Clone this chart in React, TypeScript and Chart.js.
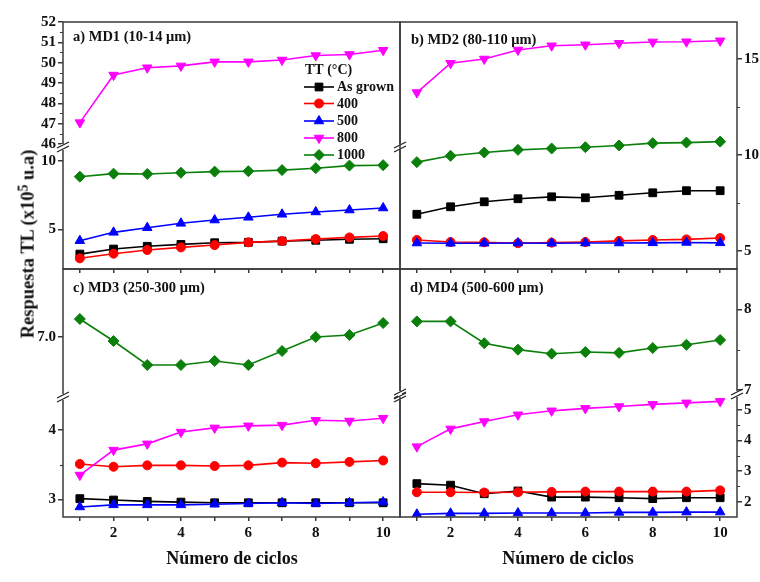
import React, { useEffect, useRef } from 'react';
import { Chart, registerables } from 'chart.js';
Chart.register(...registerables);

const FONT = '"Liberation Serif", "Times New Roman", serif';

// ---------- data ----------
const cycles = [1, 2, 3, 4, 5, 6, 7, 8, 9, 10];
const seriesNames = ['As grown', '400', '500', '800', '1000'];
const seriesColors = ['#000000', '#ff0000', '#0000ff', '#ff00ff', '#0a800a'];

// Panel a) MD1 (10-14 µm)
const a_asGrown = [3.19, 3.56, 3.76, 3.9, 4.02, 4.05, 4.14, 4.2, 4.27, 4.31];
const a_400 = [2.88, 3.22, 3.49, 3.68, 3.85, 4.05, 4.14, 4.29, 4.41, 4.51];
const a_500 = [4.17, 4.78, 5.12, 5.44, 5.68, 5.88, 6.1, 6.27, 6.41, 6.56];
const a_800 = [47.05, 49.39, 49.75, 49.84, 50.04, 50.04, 50.13, 50.35, 50.4, 50.61];
const a_1000 = [8.85, 9.07, 9.05, 9.14, 9.22, 9.25, 9.33, 9.47, 9.66, 9.69];

// Panel b) MD2 (80-110 µm)
const b_asGrown = [6.9, 7.29, 7.55, 7.71, 7.81, 7.76, 7.89, 8.02, 8.13, 8.13];
const b_400 = [5.56, 5.45, 5.44, 5.39, 5.42, 5.45, 5.51, 5.56, 5.59, 5.66];
const b_500 = [5.4, 5.39, 5.39, 5.4, 5.39, 5.4, 5.4, 5.41, 5.43, 5.41];
const b_800 = [13.25, 14.78, 15.0, 15.47, 15.69, 15.74, 15.82, 15.89, 15.9, 15.95];
const b_1000 = [9.62, 9.95, 10.12, 10.26, 10.33, 10.4, 10.49, 10.61, 10.64, 10.69];

// Panel c) MD3 (250-300 µm)
const c_asGrown = [3.01, 2.99, 2.97, 2.96, 2.95, 2.95, 2.95, 2.95, 2.95, 2.95];
const c_400 = [3.51, 3.47, 3.49, 3.49, 3.48, 3.49, 3.53, 3.52, 3.54, 3.56];
const c_500 = [2.89, 2.92, 2.92, 2.92, 2.93, 2.94, 2.95, 2.94, 2.95, 2.96];
const c_800 = [3.35, 3.71, 3.8, 3.97, 4.03, 4.06, 4.07, 4.14, 4.13, 4.17];
const c_1000 = [7.09, 6.98, 6.86, 6.86, 6.88, 6.86, 6.93, 7.0, 7.01, 7.07];

// Panel d) MD4 (500-600 µm)
const d_asGrown = [2.59, 2.54, 2.26, 2.35, 2.15, 2.15, 2.13, 2.1, 2.13, 2.13];
const d_400 = [2.31, 2.31, 2.3, 2.31, 2.32, 2.33, 2.33, 2.33, 2.33, 2.37];
const d_500 = [1.59, 1.62, 1.62, 1.63, 1.63, 1.63, 1.65, 1.65, 1.66, 1.66];
const d_800 = [3.8, 4.38, 4.62, 4.84, 4.97, 5.05, 5.11, 5.18, 5.23, 5.28];
const d_1000 = [7.85, 7.85, 7.58, 7.5, 7.45, 7.47, 7.46, 7.52, 7.56, 7.62];

// tick values
const xTicks = [1, 2, 3, 4, 5, 6, 7, 8, 9, 10];
const xLabeledTicks = [2, 4, 6, 8, 10];
const aUpperTicks = [46, 47, 48, 49, 50, 51, 52];
const aUpperMinor = [46.5, 47.5, 48.5, 49.5, 50.5, 51.5];
const aLowerTicks = [5, 10];
const bTicks = [5, 10, 15];
const bMinor = [7.5, 12.5];
const cUpperTicks = [7.0];
const cLowerTicks = [3, 4];
const cLowerMinor = [3.5];
const dUpperTicks = [7, 8];
const dUpperMinor = [7.5];
const dLowerTicks = [2, 3, 4, 5];
const dLowerMinor = [2.5, 3.5, 4.5];

// ---------- styling ----------
const pointStyles: any[] = ['rect', 'circle', 'triangle', 'triangle', 'rectRot'];
const pointRotations = [0, 0, 0, 180, 0];
const pointRadii = [5.5, 4.5, 5.5, 5.5, 5.5];
const FRAME = '#3a3a3a';

type Seg = { id: string; min: number; max: number; ticks: number[]; minor: number[]; weight: number; dec?: number };
type PanelDef = {
  area: { left: number; right: number; top: number; bottom: number };
  side: 'left' | 'right';
  segs: Seg[]; // top to bottom
  xLabeled: boolean;
  data: number[][];
  segOf: string[];
  breaks: ('left' | 'right')[];
  legend?: boolean;
};

const panels: PanelDef[] = [
  {
    area: { left: 63, right: 400, top: 22, bottom: 269 },
    side: 'left',
    segs: [
      { id: 'yU', min: 45.85, max: 52, ticks: aUpperTicks, minor: aUpperMinor, weight: 125 },
      { id: 'yL', min: 2.1, max: 11.02, ticks: aLowerTicks, minor: [], weight: 122 },
    ],
    xLabeled: false,
    data: [a_asGrown, a_400, a_500, a_800, a_1000],
    segOf: ['yL', 'yL', 'yL', 'yU', 'yL'],
    breaks: ['left', 'right'],
    legend: true,
  },
  {
    area: { left: 400, right: 737, top: 22, bottom: 269 },
    side: 'right',
    segs: [{ id: 'yU', min: 4.045, max: 16.93, ticks: bTicks, minor: bMinor, weight: 1 }],
    xLabeled: false,
    data: [b_asGrown, b_400, b_500, b_800, b_1000],
    segOf: ['yU', 'yU', 'yU', 'yU', 'yU'],
    breaks: [],
  },
  {
    area: { left: 63, right: 400, top: 269, bottom: 517 },
    side: 'left',
    segs: [
      { id: 'yU', min: 6.7, max: 7.34, ticks: cUpperTicks, minor: [], weight: 128, dec: 1 },
      { id: 'yL', min: 2.745, max: 4.476, ticks: cLowerTicks, minor: cLowerMinor, weight: 120 },
    ],
    xLabeled: true,
    data: [c_asGrown, c_400, c_500, c_800, c_1000],
    segOf: ['yL', 'yL', 'yL', 'yL', 'yU'],
    breaks: ['left', 'right'],
  },
  {
    area: { left: 400, right: 737, top: 269, bottom: 517 },
    side: 'right',
    segs: [
      { id: 'yU', min: 6.95, max: 8.5, ticks: dUpperTicks, minor: dUpperMinor, weight: 125 },
      { id: 'yL', min: 1.5, max: 5.52, ticks: dLowerTicks, minor: dLowerMinor, weight: 123 },
    ],
    xLabeled: true,
    data: [d_asGrown, d_400, d_500, d_800, d_1000],
    segOf: ['yL', 'yL', 'yL', 'yL', 'yU'],
    breaks: ['left', 'right'],
  },
];

const W = 760;
const H = 582;
const LEFT_AXIS_W = 40;
const RIGHT_AXIS_W = 23;
const X_AXIS_H = 30;

function drawMarker(ctx: CanvasRenderingContext2D, i: number, x: number, y: number) {
  const r = pointRadii[i];
  const style = pointStyles[i];
  ctx.beginPath();
  if (style === 'rect') {
    const s = Math.SQRT1_2 * r;
    ctx.rect(x - s, y - s, 2 * s, 2 * s);
  } else if (style === 'circle') {
    ctx.arc(x, y, r, 0, Math.PI * 2);
  } else if (style === 'triangle') {
    let rad = (pointRotations[i] * Math.PI) / 180;
    ctx.moveTo(x + Math.sin(rad) * r, y - Math.cos(rad) * r);
    rad += (2 * Math.PI) / 3;
    ctx.lineTo(x + Math.sin(rad) * r, y - Math.cos(rad) * r);
    rad += (2 * Math.PI) / 3;
    ctx.lineTo(x + Math.sin(rad) * r, y - Math.cos(rad) * r);
    ctx.closePath();
  } else {
    ctx.moveTo(x, y - r);
    ctx.lineTo(x + r, y);
    ctx.lineTo(x, y + r);
    ctx.lineTo(x - r, y);
    ctx.closePath();
  }
  ctx.fill();
  ctx.stroke();
}

function buildConfig(p: PanelDef): any {
  const axisW = p.side === 'left' ? LEFT_AXIS_W : RIGHT_AXIS_W;
  const padding =
    p.side === 'left'
      ? { left: p.area.left - axisW, right: W - p.area.right, top: p.area.top, bottom: H - p.area.bottom - X_AXIS_H }
      : { left: p.area.left, right: W - p.area.right - axisW, top: p.area.top, bottom: H - p.area.bottom - X_AXIS_H };

  const scales: any = {
    x: {
      type: 'linear',
      position: 'bottom',
      min: 0.5,
      max: 10.5,
      afterBuildTicks: (s: any) => {
        s.ticks = xTicks.map((v) => ({ value: v }));
      },
      afterFit: (s: any) => {
        s.height = X_AXIS_H;
      },
      grid: { drawOnChartArea: false, drawTicks: true, tickLength: 4, color: FRAME, lineWidth: 1.5 },
      border: { display: false },
      ticks: {
        autoSkip: false,
        maxRotation: 0,
        padding: 3,
        color: '#111',
        font: { family: FONT, size: 15, weight: 'bold' },
        callback: (v: number) => (p.xLabeled && xLabeledTicks.includes(v) ? String(v) : ''),
      },
    },
  };

  const segOrder = p.side === 'left' ? [...p.segs].reverse() : p.segs;
  segOrder.forEach((seg) => {
    scales[seg.id] = {
      type: 'linear',
      position: p.side,
      stack: p.segs.length > 1 ? 'ystack' : undefined,
      stackWeight: seg.weight,
      min: seg.min,
      max: seg.max,
      afterBuildTicks: (s: any) => {
        s.ticks = seg.ticks.map((v) => ({ value: v }));
      },
      afterFit: (s: any) => {
        s.width = axisW;
      },
      grid: { drawOnChartArea: false, drawTicks: true, tickLength: 5, color: FRAME, lineWidth: 1.5 },
      border: { display: false },
      ticks: {
        autoSkip: false,
        padding: 2,
        color: '#111',
        font: { family: FONT, size: 15, weight: 'bold' },
        callback: (v: number) => (seg.dec ? v.toFixed(seg.dec) : String(v)),
      },
    };
  });

  const datasets = p.data.map((vals, i) => ({
    label: seriesNames[i],
    data: vals.map((v, k) => ({ x: cycles[k], y: v })),
    xAxisID: 'x',
    yAxisID: p.segOf[i],
    borderColor: seriesColors[i],
    backgroundColor: seriesColors[i],
    pointBackgroundColor: seriesColors[i],
    pointBorderColor: seriesColors[i],
    borderWidth: 1.6,
    pointStyle: pointStyles[i],
    pointRotation: pointRotations[i],
    pointRadius: pointRadii[i],
    pointBorderWidth: 1,
    tension: 0,
    order: 5 - i,
  }));

  const framePlugin = {
    id: 'frameBreaks',
    afterDraw(chart: any) {
      const ctx: CanvasRenderingContext2D = chart.ctx;
      const ca = chart.chartArea;
      ctx.save();
      ctx.strokeStyle = FRAME;
      ctx.lineWidth = 1.5;
      ctx.strokeRect(ca.left, ca.top, ca.right - ca.left, ca.bottom - ca.top);
      // minor ticks on the value axes
      const ax = p.side === 'left' ? ca.left : ca.right;
      const dir = p.side === 'left' ? -1 : 1;
      ctx.lineWidth = 1.2;
      ctx.beginPath();
      p.segs.forEach((seg) => {
        const sc = chart.scales[seg.id];
        seg.minor.forEach((v) => {
          const y = Math.round(sc.getPixelForValue(v)) + 0.5;
          ctx.moveTo(ax, y);
          ctx.lineTo(ax + dir * 3, y);
        });
      });
      ctx.stroke();
      if (p.segs.length > 1) {
        const y = chart.scales[p.segs[0].id].bottom;
        p.breaks.forEach((side) => {
          const x = side === 'left' ? ca.left : ca.right;
          ctx.fillStyle = '#ffffff';
          ctx.fillRect(x - 2, y - 3, 4, 6);
          ctx.strokeStyle = '#222';
          ctx.lineWidth = 1.2;
          ctx.beginPath();
          ctx.moveTo(x - 6, y + 1);
          ctx.lineTo(x + 6, y - 5);
          ctx.moveTo(x - 6, y + 5);
          ctx.lineTo(x + 6, y - 1);
          ctx.stroke();
        });
      }
      if (p.legend) {
        ctx.fillStyle = '#111';
        ctx.font = `bold 14px ${FONT}`;
        ctx.textBaseline = 'middle';
        ctx.textAlign = 'left';
        ctx.fillText('TT (°C)', 305, 70);
        const ys = [87, 103.5, 121, 138, 155];
        seriesNames.forEach((name, i) => {
          const y = ys[i];
          ctx.strokeStyle = seriesColors[i];
          ctx.fillStyle = seriesColors[i];
          ctx.lineWidth = 1.6;
          ctx.beginPath();
          ctx.moveTo(304, y);
          ctx.lineTo(334, y);
          ctx.stroke();
          ctx.lineWidth = 1;
          drawMarker(ctx, i, 319, y);
          ctx.fillStyle = '#111';
          ctx.fillText(name, 337, y + 0.5);
        });
      }
      ctx.restore();
    },
  };

  return {
    type: 'line',
    data: { datasets },
    options: {
      responsive: false,
      maintainAspectRatio: false,
      animation: false,
      devicePixelRatio: 1,
      events: [],
      layout: { padding },
      plugins: { legend: { display: false }, tooltip: { enabled: false } },
      scales,
    },
    plugins: [framePlugin],
  };
}

const textBase: React.CSSProperties = {
  position: 'absolute',
  whiteSpace: 'nowrap',
  fontFamily: FONT,
  fontWeight: 'bold',
  color: '#111',
  lineHeight: 1,
};

export default function App() {
  const refs = useRef<(HTMLCanvasElement | null)[]>([]);
  useEffect(() => {
    const charts = panels.map((p, i) => new Chart(refs.current[i] as HTMLCanvasElement, buildConfig(p)));
    return () => {
      charts.forEach((c) => c.destroy());
    };
  }, []);

  const panelLabels = [
    { text: 'a) MD1 (10-14 μm)', x: 73, y: 36 },
    { text: 'b) MD2 (80-110 μm)', x: 411, y: 39 },
    { text: 'c) MD3 (250-300 μm)', x: 73, y: 287 },
    { text: 'd)  MD4 (500-600 μm)', x: 410, y: 287 },
  ];

  return (
    <div style={{ position: 'absolute', left: 0, top: 0, width: W, height: H, background: '#ffffff', overflow: 'hidden' }}>
      {panels.map((_, i) => (
        <canvas
          key={i}
          ref={(el) => {
            refs.current[i] = el;
          }}
          width={W}
          height={H}
          style={{ position: 'absolute', left: 0, top: 0, width: W, height: H }}
        />
      ))}
      {panelLabels.map((l, i) => (
        <div key={i} style={{ ...textBase, left: l.x, top: l.y, fontSize: 14.5, transform: 'translateY(-50%)' }}>
          {l.text}
        </div>
      ))}
      <div style={{ ...textBase, left: 232, top: 558, fontSize: 18, transform: 'translate(-50%,-50%)' }}>Número de ciclos</div>
      <div style={{ ...textBase, left: 568, top: 558, fontSize: 18, transform: 'translate(-50%,-50%)' }}>Número de ciclos</div>
      <div style={{ ...textBase, left: 27, top: 244, fontSize: 18.5, transform: 'translate(-50%,-50%) rotate(-90deg)' }}>
        Respuesta TL (x10<span style={{ fontSize: 14, verticalAlign: '0.45em' }}>5</span> u.a)
      </div>
    </div>
  );
}
